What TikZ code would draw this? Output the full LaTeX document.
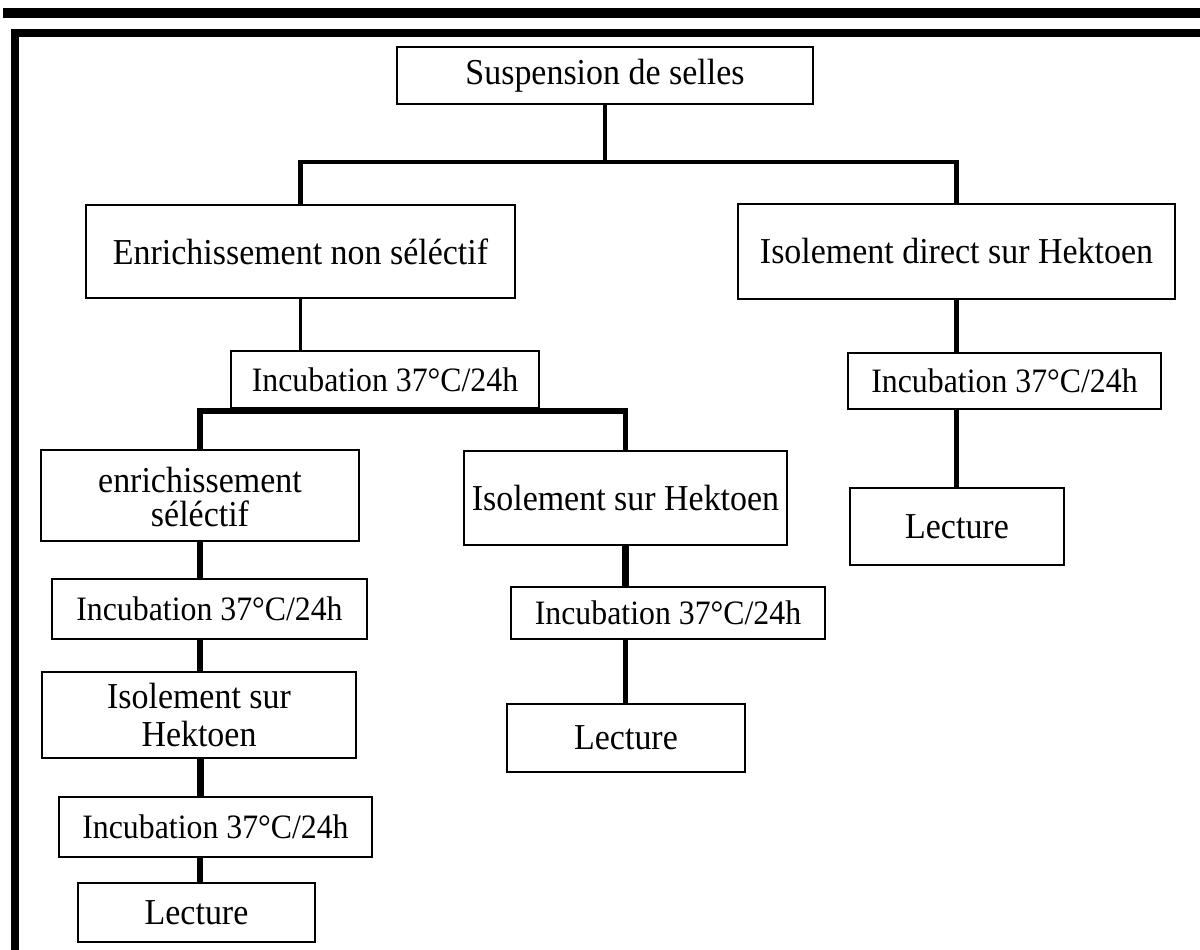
\documentclass[tikz,border=0pt]{standalone}
\usepackage{fontspec}
\setmainfont{Liberation Serif}
% slightly narrowed serif so the letters stand a little taller
\newfontfamily\boxfont[FakeStretch=0.93]{Liberation Serif}
\usetikzlibrary{backgrounds}
\newcommand{\bigtxt}{\boxfont\fontsize{36.5}{38}\selectfont}
\newcommand{\inctxt}{\boxfont\fontsize{34.2}{36}\selectfont}
\tikzset{
  stepbox/.style={draw, line width=2.8pt, fill=white, inner sep=0pt, outer sep=0pt,
    align=center, font=\bigtxt},
  incbox/.style={draw, line width=1.2pt, fill=white, inner sep=0pt, outer sep=0pt,
    align=center, font=\inctxt},
  link/.style={line width=4pt, line join=miter},
  heavylink/.style={line width=5.5pt, line join=miter},
  rule/.style={line width=8pt}
}
\begin{document}
\begin{tikzpicture}[x=1pt, y=-1pt]
\useasboundingbox (0,0) rectangle (1200,950);
\clip (0,0) rectangle (1200,950);

% steps of the procedure
\node[stepbox, minimum width=416pt, minimum height=57pt] (susp) at (605,75.5) {Suspension de selles};
\node[stepbox, minimum width=429pt, minimum height=93pt] (enr) at (300.5,251.5) {Enrichissement non séléctif};
\node[stepbox, minimum width=437pt, minimum height=95pt] (isodir) at (956.5,251.5) {Isolement direct sur Hektoen};
\node[incbox, minimum width=308pt, minimum height=57pt] (inc1) at (385,379.5) {Incubation 37°C/24h};
\node[stepbox, minimum width=318pt, minimum height=91pt] (sel) at (200,495.5)
  {\raisebox{-6pt}[\height][\depth]{\begin{tabular}{@{}c@{}}enrichissement\\[-4pt]séléctif\end{tabular}}};
\node[stepbox, minimum width=323pt, minimum height=94pt] (iso) at (625.5,498) {Isolement sur Hektoen};
\node[incbox, minimum width=313pt, minimum height=56pt] (inc2) at (1004.5,381) {Incubation 37°C/24h};
\node[stepbox, minimum width=214pt, minimum height=77pt] (lec1) at (957,526.5) {Lecture};
\node[incbox, minimum width=314pt, minimum height=52pt] (inc3) at (668,613) {Incubation 37°C/24h};
\node[stepbox, minimum width=238pt, minimum height=68pt] (lec2) at (626,738) {Lecture};
\node[incbox, minimum width=315pt, minimum height=60pt] (inc4) at (209.5,609) {Incubation 37°C/24h};
\node[stepbox, minimum width=314pt, minimum height=86pt] (isosel) at (199,715) {Isolement sur\\Hektoen};
\node[incbox, minimum width=313pt, minimum height=60pt] (inc5) at (215.5,827) {Incubation 37°C/24h};
\node[stepbox, minimum width=237pt, minimum height=59pt] (lec3) at (196.5,912.5) {Lecture};

\begin{scope}[on background layer]
  % page rules and frame
  \fill (2.5,8) rectangle (1200,18);
  \draw[rule] (15,1000) -- (15,33) -- (1250,33);

  % first split
  \coordinate (bus1) at (0,162);
  \draw[link, line width=3.5pt] (susp.south) -- (susp.south |- bus1);
  \draw[link, line width=4.5pt] (enr.north) -- (enr.north |- bus1) -- (isodir.north |- bus1) -- (isodir.north);
  \draw[link, line width=3.5pt] (enr.south) -- (enr.south |- inc1.north);

  % second split
  \coordinate (bus2) at (0,411);
  \draw[heavylink] (sel.north) -- (sel.north |- bus2) -- (iso.north |- bus2) -- (iso.north);

  % left branch
  \draw[heavylink] (sel.south) -- (sel.south |- inc4.north);
  \draw[heavylink] (sel.south |- inc4.south) -- (sel.south |- isosel.north);
  \draw[heavylink, line width=7pt] (sel.south |- isosel.south) -- (sel.south |- inc5.north);
  \draw[heavylink] (sel.south |- inc5.south) -- (sel.south |- lec3.north);

  % middle branch
  \draw[heavylink, line width=6.5pt] (iso.south) -- (iso.south |- inc3.north);
  \draw[heavylink] (iso.south |- inc3.south) -- (iso.south |- lec2.north);

  % right branch
  \draw[link, line width=5pt] (isodir.south) -- (isodir.south |- inc2.north);
  \draw[heavylink] (isodir.south |- inc2.south) -- (isodir.south |- lec1.north);
\end{scope}
\end{tikzpicture}
\end{document}
